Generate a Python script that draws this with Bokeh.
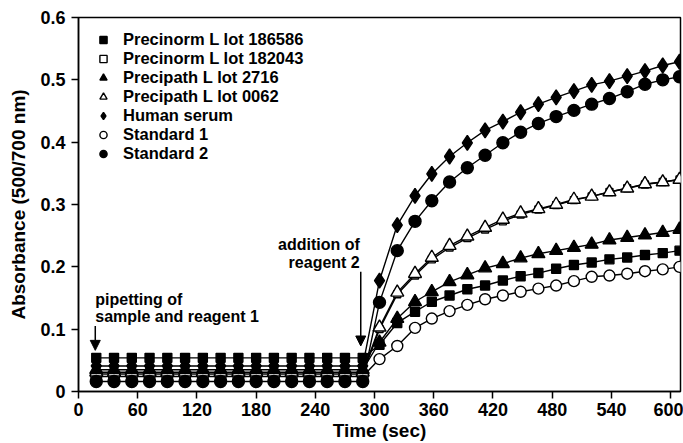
from bokeh.plotting import figure
from bokeh.models import (Range1d, Legend, LegendItem, Arrow, NormalHead, Label,
                          FixedTicker, ColumnDataSource)
from bokeh.embed import file_html
from bokeh.resources import INLINE

# ---------------- data ----------------
time_flat = [18, 36, 54, 72, 90, 108, 126, 144, 162, 180, 198, 216, 234, 252, 270, 288]
time_post = [305, 323, 341, 358, 376, 394, 412, 430, 448, 466, 484, 502, 520, 538, 556, 574, 592, 609]
time_sec = time_flat + time_post

precinorm_186586 = [0.054, 0.054, 0.054, 0.054, 0.054, 0.054, 0.054, 0.054,
                    0.054, 0.054, 0.054, 0.054, 0.054, 0.054, 0.054, 0.054,
                    0.075, 0.110, 0.128, 0.144, 0.154, 0.164, 0.170, 0.178, 0.185,
                    0.190, 0.197, 0.203, 0.207, 0.212, 0.215, 0.219, 0.222, 0.226]
precinorm_182043 = [0.028, 0.028, 0.028, 0.028, 0.028, 0.028, 0.028, 0.028,
                    0.028, 0.028, 0.028, 0.028, 0.028, 0.028, 0.028, 0.028,
                    0.100, 0.156, 0.186, 0.212, 0.231, 0.246, 0.260, 0.273, 0.284,
                    0.292, 0.299, 0.307, 0.313, 0.320, 0.326, 0.332, 0.336, 0.340]
precipath_2716 = [0.035, 0.035, 0.035, 0.035, 0.035, 0.035, 0.035, 0.035,
                  0.035, 0.035, 0.035, 0.035, 0.035, 0.035, 0.035, 0.035,
                  0.079, 0.117, 0.144, 0.160, 0.176, 0.187, 0.198, 0.205, 0.214,
                  0.221, 0.226, 0.231, 0.236, 0.243, 0.247, 0.251, 0.255, 0.260]
precipath_0062 = [0.031, 0.031, 0.031, 0.031, 0.031, 0.031, 0.031, 0.031,
                  0.031, 0.031, 0.031, 0.031, 0.031, 0.031, 0.031, 0.031,
                  0.103, 0.159, 0.189, 0.215, 0.234, 0.249, 0.263, 0.276, 0.286,
                  0.293, 0.300, 0.308, 0.313, 0.320, 0.326, 0.333, 0.336, 0.340]
human_serum = [0.041, 0.041, 0.041, 0.041, 0.041, 0.041, 0.041, 0.041,
               0.041, 0.041, 0.041, 0.041, 0.041, 0.041, 0.041, 0.041,
               0.178, 0.267, 0.314, 0.349, 0.377, 0.399, 0.419, 0.433, 0.448,
               0.461, 0.472, 0.482, 0.492, 0.498, 0.506, 0.514, 0.523, 0.529]
standard_1 = [0.024, 0.024, 0.024, 0.024, 0.024, 0.024, 0.024, 0.024,
              0.024, 0.024, 0.024, 0.024, 0.024, 0.024, 0.024, 0.024,
              0.052, 0.073, 0.102, 0.117, 0.129, 0.139, 0.148, 0.154, 0.160,
              0.165, 0.170, 0.177, 0.184, 0.186, 0.189, 0.193, 0.196, 0.200]
standard_2 = [0.016, 0.016, 0.016, 0.016, 0.016, 0.016, 0.016, 0.016,
              0.016, 0.016, 0.016, 0.016, 0.016, 0.016, 0.016, 0.016,
              0.143, 0.226, 0.273, 0.306, 0.336, 0.359, 0.379, 0.399, 0.416,
              0.430, 0.441, 0.451, 0.461, 0.470, 0.481, 0.493, 0.500, 0.505]

x_ticks = [0, 60, 120, 180, 240, 300, 360, 420, 480, 540, 600]
y_ticks = [0, 0.1, 0.2, 0.3, 0.4, 0.5, 0.6]

FONT = "Liberation Sans"

# (label, values, marker, filled, size)
series = [
    ("Precinorm L lot 186586", precinorm_186586, "square", True, 9),
    ("Precinorm L lot 182043", precinorm_182043, "square", False, 7),
    ("Precipath L lot 2716", precipath_2716, "triangle", True, 13),
    ("Precipath L lot 0062", precipath_0062, "triangle", False, 13),
    ("Human serum", human_serum, "diamond", True, 15),
    ("Standard 1", standard_1, "circle", False, 11),
    ("Standard 2", standard_2, "circle", True, 12),
]

p = figure(width=683, height=443, x_range=Range1d(0, 610), y_range=Range1d(0, 0.6),
           output_backend="svg", toolbar_location=None,
           min_border_left=78, min_border_right=3, min_border_top=17, min_border_bottom=48)
p.grid.visible = False
p.outline_line_color = "black"
p.outline_line_width = 1.5
p.background_fill_color = "white"
p.border_fill_color = "white"

for ax in (p.xaxis, p.yaxis):
    ax.axis_line_width = 1.5
    ax.major_tick_line_width = 1.5
    ax.major_tick_out = 7
    ax.major_tick_in = 0
    ax.minor_tick_line_color = None
    ax.major_label_text_font = FONT
    ax.major_label_text_font_style = "bold"
    ax.major_label_text_font_size = "18px"
    ax.major_label_text_color = "black"
    ax.axis_label_text_font = FONT
    ax.axis_label_text_font_style = "bold"
    ax.axis_label_text_font_size = "19px"
    ax.axis_label_text_color = "black"

p.xaxis.ticker = FixedTicker(ticks=x_ticks)
p.yaxis.ticker = FixedTicker(ticks=y_ticks)
p.yaxis.major_label_overrides = {0: "0"}
p.xaxis.axis_label = "Time (sec)"
p.yaxis.axis_label = "Absorbance (500/700 nm)"
p.xaxis.major_label_standoff = 4
p.xaxis.axis_label_standoff = 1
p.yaxis.major_label_standoff = 6
p.yaxis.axis_label_standoff = 8

# draw open series first so that filled markers overlay them in the flat region
draw_order = [5, 1, 3, 0, 2, 4, 6]
marker_renderers = {}
for i in draw_order:
    label, vals, marker, filled, size = series[i]
    src = ColumnDataSource(data=dict(t=time_sec, a=vals))
    p.line("t", "a", source=src, line_color="black", line_width=1.4)
for i in draw_order:
    label, vals, marker, filled, size = series[i]
    src = ColumnDataSource(data=dict(t=time_sec, a=vals))
    r = p.scatter("t", "a", source=src, marker=marker, size=size,
                  line_color="black", line_width=1.4,
                  fill_color="black" if filled else "white")
    marker_renderers[i] = r

legend = Legend(items=[LegendItem(label=s[0], renderers=[marker_renderers[i]])
                       for i, s in enumerate(series)],
                location=(16, 228))
legend.border_line_color = None
legend.background_fill_alpha = 0
legend.padding = 0
legend.margin = 0
legend.spacing = 0
legend.glyph_width = 18
legend.glyph_height = 19
legend.label_height = 19
legend.label_standoff = 11
legend.label_text_font = FONT
legend.label_text_font_style = "bold"
legend.label_text_font_size = "16.5px"
legend.label_text_color = "black"
p.add_layout(legend)

# annotations
p.add_layout(Arrow(end=NormalHead(size=10, fill_color="black", line_color="black"),
                   x_start=17, y_start=0.105, x_end=17, y_end=0.066,
                   line_width=1.5, line_color="black"))
p.add_layout(Arrow(end=NormalHead(size=10, fill_color="black", line_color="black"),
                   x_start=286, y_start=0.192, x_end=286, y_end=0.073,
                   line_width=1.5, line_color="black"))

p.add_layout(Label(x=17, y=0.162, text="pipetting of\nsample and reagent 1",
                   text_font=FONT, text_font_style="bold", text_font_size="16px",
                   text_baseline="top", text_align="left", text_line_height=1.05,
                   text_color="black"))
p.add_layout(Label(x=285, y=0.250, text="addition of\nreagent 2",
                   text_font=FONT, text_font_style="bold", text_font_size="16px",
                   text_baseline="top", text_align="right", text_line_height=1.05,
                   text_color="black"))

open("out.html", "w").write(file_html(p, INLINE))
